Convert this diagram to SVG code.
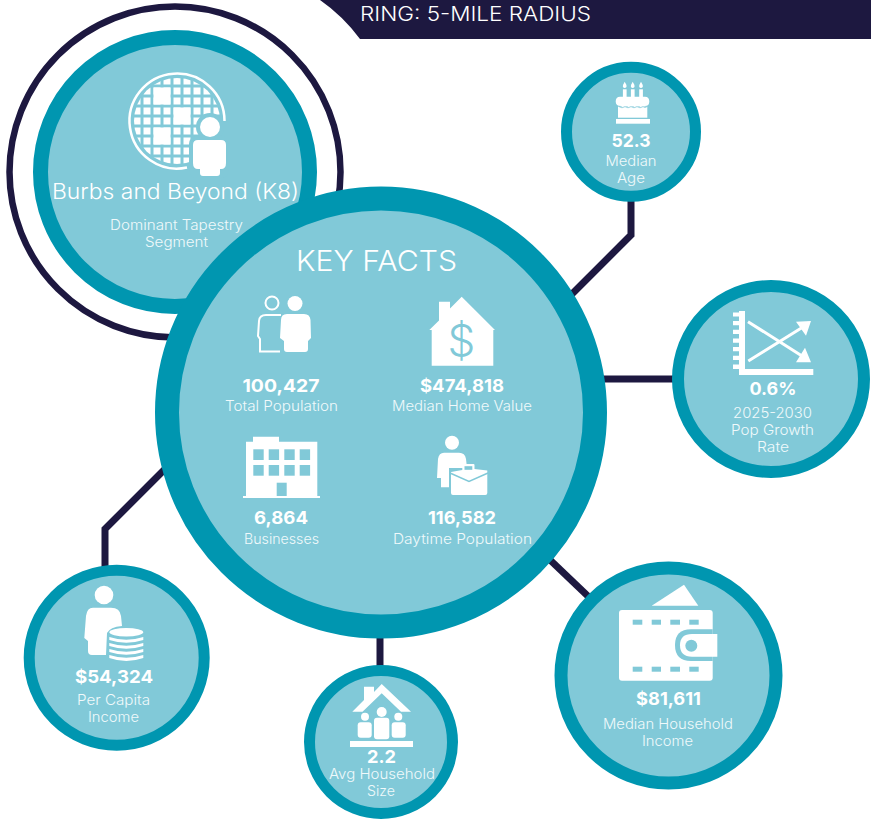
<svg xmlns="http://www.w3.org/2000/svg" width="871" height="822" viewBox="0 0 871 822">
<style>
text{font-family:"Inter","Liberation Sans",sans-serif;fill:#fff;text-anchor:middle}
.disc{fill:#81c9d8;stroke:#0096b0}
.link{fill:none;stroke:#1d1840;stroke-width:7}
.val{font-weight:700;font-size:18px}
.lab{font-weight:300;font-size:14px;fill:#f0f9fb}
.ic{fill:#fff}
.cut{fill:#81c9d8}
.ln{fill:none;stroke:#fff}
</style>
<defs>
<pattern id="grid" patternUnits="userSpaceOnUse" x="133.5" y="77.5" width="10" height="10"><rect width="7" height="7" fill="#fff"/></pattern>
<clipPath id="globeClip"><circle cx="177" cy="121" r="43"/></clipPath>
</defs>
<rect width="871" height="822" fill="#fff"/>
<g id="banner">
<path d="M320,0 Q343,16 360,39 H871 V0 Z" fill="#1d1840"/>
<text x="475.5" y="21" font-size="20" textLength="231" lengthAdjust="spacingAndGlyphs" font-weight="300">RING: 5-MILE RADIUS</text>
</g>
<g id="connectors">
<path class="link" d="M631,198 V235 L570,296"/>
<path class="link" d="M600,379 H680"/>
<path class="link" d="M168,466 L105,529 V572"/>
<path class="link" d="M380,632 V672"/>
<path class="link" d="M548,558 L592,600"/>
</g>
<g id="node-segment">
<circle cx="175" cy="172" r="165.5" fill="none" stroke="#1d1840" stroke-width="6.5"/>
<circle class="disc" cx="175" cy="172" r="134.5" stroke-width="15"/>
<g clip-path="url(#globeClip)">
<rect x="130" y="75" width="95" height="95" fill="url(#grid)"/>
<rect class="ic" x="153.5" y="87.5" width="17" height="17"/>
<rect class="ic" x="173.5" y="107.5" width="17" height="17"/>
<rect class="ic" x="153.5" y="127.5" width="17" height="17"/>
</g>
<path class="ln" stroke-width="2.5" d="M224.5,121 A47.5,47.5 0 1 0 187,167.5"/>
<circle class="cut" cx="210" cy="127" r="14"/>
<rect class="cut" x="189" y="136" width="40" height="42" rx="8"/>
<circle class="ic" cx="210" cy="127" r="10"/>
<path class="ic" d="M198,140 H221 Q226,140 226,145 V163 Q226,169 221,169 H220 V173 Q220,176 217,176 H203 Q200,176 200,173 V169 H198 Q193,169 193,163 V145 Q193,140 198,140 Z"/>
<text x="175.5" y="199" font-size="21.5" font-weight="300" textLength="247" lengthAdjust="spacingAndGlyphs">Burbs and Beyond (K8)</text>
<text class="lab" x="176.5" y="230" textLength="133" lengthAdjust="spacingAndGlyphs">Dominant Tapestry</text>
<text class="lab" x="176.5" y="247" textLength="63" lengthAdjust="spacingAndGlyphs">Segment</text>
</g>
<g id="node-key-facts">
<circle class="disc" cx="381" cy="412.5" r="214" stroke-width="24"/>
<text x="376.5" y="271" font-size="29" font-weight="300" textLength="161" lengthAdjust="spacingAndGlyphs">KEY FACTS</text>
<g id="total-population">
<circle class="ln" cx="272" cy="303" r="6.5" stroke-width="2"/>
<path class="ln" stroke-width="2" d="M281,315 H266 Q259.5,315 259,321 L258,336 L260,339 V351.5 H280"/>
<circle class="ic" cx="295" cy="303.5" r="7.5"/>
<path class="ic" d="M287,314 H304 Q310,314 310.5,320 L311,338 L308,341 V349 Q308,352 305,352 H287 Q284,352 284,349 V341 L280,338 L281,320 Q281,314 287,314 Z"/>
<text class="val" x="281" y="392" textLength="77" lengthAdjust="spacingAndGlyphs">100,427</text>
<text class="lab" x="281.5" y="411" textLength="113" lengthAdjust="spacingAndGlyphs">Total Population</text>
</g>
<g id="home-value">
<path class="ic" d="M461.7,296.7 L495,330 H493.3 V365.7 H431.7 V330 H429.3 L439,320.5 V301.7 H450 V308.5 Z"/>
<text x="461.5" y="356" font-size="44" font-weight="300" style="fill:#81c9d8">$</text>
<text class="val" x="462" y="392" textLength="84" lengthAdjust="spacingAndGlyphs">$474,818</text>
<text class="lab" x="462" y="411" textLength="140" lengthAdjust="spacingAndGlyphs">Median Home Value</text>
</g>
<g id="businesses">
<path class="ic" d="M246,441.7 H253 V436.7 H279 V441.7 H317.3 V496 H320 V498 H243 V496 H246 Z"/>
<g class="cut">
<rect x="253.3" y="449.3" width="10.4" height="10.7"/><rect x="268.7" y="449.3" width="10.4" height="10.7"/><rect x="284.3" y="449.3" width="10.4" height="10.7"/><rect x="299.7" y="449.3" width="10.4" height="10.7"/>
<rect x="253.3" y="465" width="10.4" height="10.7"/><rect x="268.7" y="465" width="10.4" height="10.7"/><rect x="284.3" y="465" width="10.4" height="10.7"/><rect x="299.7" y="465" width="10.4" height="10.7"/>
<rect x="276.7" y="482.7" width="10" height="13.3"/>
</g>
<text class="val" x="281" y="524" textLength="54" lengthAdjust="spacingAndGlyphs">6,864</text>
<text class="lab" x="281.5" y="544" textLength="75" lengthAdjust="spacingAndGlyphs">Businesses</text>
</g>
<g id="daytime-population">
<circle class="ic" cx="452" cy="442.7" r="7"/>
<path class="ic" d="M444,452.7 H459 Q465,452.7 466,459 L467,468 H449 V487.3 H441 V478 H437 L438,459 Q439,452.7 444,452.7 Z"/>
<rect class="cut" x="449" y="468" width="18" height="28"/>
<path class="ic" d="M462.3,470 V465 Q462.3,464 463.3,464 H473.5 Q474.5,464 474.5,465 V469 L487.3,470.5 V493 Q487.3,495 485.3,495 H453 Q451,495 451,493 V472 Z"/>
<rect class="cut" x="464.5" y="466.2" width="7.8" height="3.6"/>
<path fill="none" stroke="#81c9d8" stroke-width="1.5" d="M450,473 L469,481.5 L488,473"/>
<text class="val" x="462" y="524" textLength="68" lengthAdjust="spacingAndGlyphs">116,582</text>
<text class="lab" x="462.5" y="544" textLength="139" lengthAdjust="spacingAndGlyphs">Daytime Population</text>
</g>
</g>
<g id="node-age">
<circle class="disc" cx="631" cy="131.7" r="64.5" stroke-width="11"/>
<rect class="ic" x="616" y="119" width="34" height="4.7"/>
<rect class="ic" x="618" y="106.7" width="29.3" height="11"/>
<path class="ic" d="M620,96.7 H645 Q649.3,96.7 649.3,101.5 Q649.3,106 645,106 Q642,108.5 639,106 Q636,108.5 633,106 Q630,108.5 627,106 Q624,108.5 621,106 Q615.7,106 615.7,101.5 Q615.7,96.7 620,96.7 Z"/>
<path fill="none" stroke="#81c9d8" stroke-width=".8" d="M619,106.6 Q622,109 625,106.6 Q628,109 631,106.6 Q634,109 637,106.6 Q640,109 643,106.6 Q645,108.5 647,106.6"/>
<rect class="ic" x="622.9" y="89.3" width="3.7" height="8"/><rect class="ic" x="630.9" y="89.3" width="3.7" height="8"/><rect class="ic" x="639.2" y="89.3" width="3.7" height="8"/>
<path class="ic" d="M624.7,81.7 Q627,85 626.5,87 Q624.7,88.8 622.9,87 Q622.5,85 624.7,81.7 Z M632.7,81.7 Q635,85 634.5,87 Q632.7,88.8 630.9,87 Q630.5,85 632.7,81.7 Z M641,81.7 Q643.3,85 642.8,87 Q641,88.8 639.2,87 Q638.8,85 641,81.7 Z"/>
<text class="val" x="631" y="147" textLength="39" lengthAdjust="spacingAndGlyphs">52.3</text>
<text class="lab" x="631" y="166" textLength="51" lengthAdjust="spacingAndGlyphs">Median</text>
<text class="lab" x="631" y="183" textLength="28" lengthAdjust="spacingAndGlyphs">Age</text>
</g>
<g id="node-growth">
<circle class="disc" cx="771" cy="379" r="93" stroke-width="12"/>
<rect class="ic" x="739" y="311" width="6" height="64"/>
<rect class="ic" x="739" y="369" width="74.3" height="6"/>
<path class="ic" d="M733,312.5 h6 v4 h-6 z M733,321 h6 v4.3 h-6 z M733,329.8 h6 v4.3 h-6 z M733,338.5 h6 v4.3 h-6 z M733,347 h6 v4.3 h-6 z M733,355.8 h6 v4.3 h-6 z M733,364.5 h6 v4.5 h-6 z"/>
<path class="ln" stroke-width="3" d="M748.3,361 L803,327 M748,321.7 L802,356"/>
<path class="ic" d="M811,321 L796,321.7 L806,335.7 Z M811,362.3 L796,362.3 L805,347.7 Z"/>
<text class="val" x="773" y="395" textLength="47" lengthAdjust="spacingAndGlyphs">0.6%</text>
<text class="lab" x="772.5" y="418" textLength="79" lengthAdjust="spacingAndGlyphs">2025-2030</text>
<text class="lab" x="772.5" y="435" textLength="83" lengthAdjust="spacingAndGlyphs">Pop Growth</text>
<text class="lab" x="773" y="452" textLength="32" lengthAdjust="spacingAndGlyphs">Rate</text>
</g>
<g id="node-per-capita">
<circle class="disc" cx="116.7" cy="657.7" r="87.5" stroke-width="11"/>
<circle class="ic" cx="104" cy="595" r="9.3"/>
<path class="ic" d="M93,607.7 H111 Q120,607.7 121,616 L122,626 Q110,627 107,633 L106,655 H92 Q88,655 88,651 V641 L84.3,638 L86,616 Q87,607.7 93,607.7 Z"/>
<g class="ic">
<ellipse cx="126.3" cy="632.3" rx="17" ry="4.2"/>
<path d="M109.3,637 Q126.3,642.5 143.3,637 V640 Q126.3,645.5 109.3,640 Z"/>
<path d="M109.3,643 Q126.3,648.5 143.3,643 V646 Q126.3,651.5 109.3,646 Z"/>
<path d="M109.3,649 Q126.3,654.5 143.3,649 V652 Q126.3,657.5 109.3,652 Z"/>
<path d="M109.3,655 Q126.3,660.5 143.3,655 V658 Q126.3,664 109.3,658 Z"/>
</g>
<text class="val" x="114" y="683" textLength="78" lengthAdjust="spacingAndGlyphs">$54,324</text>
<text class="lab" x="113.5" y="705" textLength="73" lengthAdjust="spacingAndGlyphs">Per Capita</text>
<text class="lab" x="113.5" y="722" textLength="51" lengthAdjust="spacingAndGlyphs">Income</text>
</g>
<g id="node-household">
<circle class="disc" cx="381" cy="742" r="71.5" stroke-width="11"/>
<path class="ic" d="M364,686.7 H374 V692 L381.7,684 L411,711.7 H401 L381.7,693.3 L362.5,711.7 H352.3 L364,700 Z"/>
<circle class="ic" cx="381.7" cy="712" r="5"/>
<circle class="ic" cx="365" cy="716.7" r="4"/>
<circle class="ic" cx="398.3" cy="716.7" r="4"/>
<rect class="ic" x="374" y="717.7" width="15.3" height="21.6" rx="3"/>
<rect class="ic" x="357.7" y="722.3" width="14" height="15.4" rx="3"/>
<rect class="ic" x="391.7" y="722.3" width="14" height="15.4" rx="3"/>
<rect class="ic" x="350" y="741" width="63" height="6"/>
<text class="val" x="381.5" y="763" textLength="29" lengthAdjust="spacingAndGlyphs">2.2</text>
<text class="lab" x="382" y="779" textLength="106" lengthAdjust="spacingAndGlyphs">Avg Household</text>
<text class="lab" x="381" y="796" textLength="28" lengthAdjust="spacingAndGlyphs">Size</text>
</g>
<g id="node-income">
<circle class="disc" cx="668.5" cy="675.5" r="107.5" stroke-width="13"/>
<path class="ic" d="M651.7,605.7 L684,584.7 L698.3,605.7 Z"/>
<rect class="ic" x="619" y="610" width="93.7" height="70.7" rx="3"/>
<g class="cut">
<rect x="632.7" y="619.7" width="9.6" height="5"/><rect x="651.7" y="619.7" width="9.3" height="5"/><rect x="670.3" y="619.7" width="9.7" height="5"/><rect x="689.3" y="619.7" width="9.4" height="5"/>
<rect x="632.7" y="666.7" width="9.6" height="5"/><rect x="651.7" y="666.7" width="9.3" height="5"/><rect x="670.3" y="666.7" width="9.7" height="5"/><rect x="689.3" y="666.7" width="9.4" height="5"/>
<path d="M712.7,629.3 H691 Q675,629.3 675,645 Q675,661 691,661 H712.7 Z"/>
</g>
<path class="ic" d="M717.3,634 H692 Q680,634 680,645.3 Q680,656.7 692,656.7 H717.3 Z"/>
<circle class="cut" cx="691.3" cy="645.7" r="6"/>
<text class="val" x="668.5" y="705" textLength="65" lengthAdjust="spacingAndGlyphs">$81,611</text>
<text class="lab" x="668" y="729" textLength="130" lengthAdjust="spacingAndGlyphs">Median Household</text>
<text class="lab" x="667.5" y="746" textLength="51" lengthAdjust="spacingAndGlyphs">Income</text>
</g>
</svg>
